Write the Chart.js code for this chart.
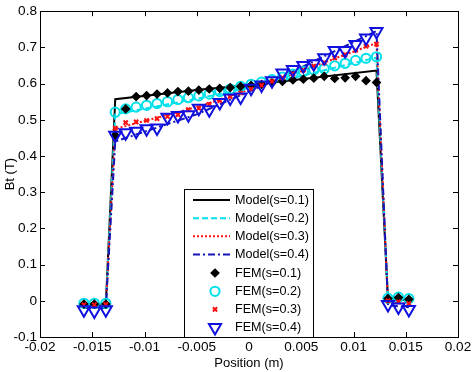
<!DOCTYPE html>
<html>
<head>
<meta charset="utf-8">
<script src="https://cdn.jsdelivr.net/npm/chart.js@4.4.1/dist/chart.umd.min.js"></script>
<style>
html,body{margin:0;padding:0;background:#fff;}
#wrap{width:474px;height:372px;position:relative;}
</style>
</head>
<body>
<div id="wrap"><canvas id="c" width="474" height="372"></canvas></div>
<script>
// ---- data ----
const xTickLabels = ['-0.02','-0.015','-0.01','-0.005','0','0.005','0.01','0.015','0.02'];
const yTickLabels = ['-0.1','0','0.1','0.2','0.3','0.4','0.5','0.6','0.7','0.8'];

// Model curve positions (m)
const xModel = [-0.0158, -0.0148, -0.0137, -0.0128, -0.005, 0.002, 0.0122, 0.0133, 0.0143, 0.0153];
const model01 = [-0.010, -0.010, -0.010, 0.557, 0.582, 0.602, 0.636, 0.002, 0.003, 0.002];
const model02 = [-0.010, -0.010, -0.010, 0.515, 0.558, 0.600, 0.672, 0.003, 0.003, 0.002];
const model03 = [-0.012, -0.012, -0.012, 0.475, 0.535, 0.602, 0.712, -0.004, -0.006, -0.008];
const model04 = [-0.020, -0.020, -0.020, 0.440, 0.515, 0.603, 0.745, -0.012, -0.015, -0.018];

// FEM sample positions (m)
const xFem = [-0.0158, -0.0148, -0.0137,
  -0.0128, -0.0118, -0.0108, -0.0098, -0.0088, -0.0078, -0.0068, -0.0058, -0.0048, -0.0038,
  -0.0028, -0.0018, -0.0008, 0.0002, 0.0012, 0.0022, 0.0032, 0.0042, 0.0052, 0.0062,
  0.0072, 0.0082, 0.0092, 0.0102, 0.0112, 0.0122,
  0.0133, 0.0143, 0.0153];
const fem01 = [-0.009, -0.009, -0.009,
  0.457, 0.530, 0.564, 0.567, 0.571, 0.574, 0.578, 0.579, 0.582, 0.585,
  0.587, 0.589, 0.592, 0.595, 0.598, 0.602, 0.606, 0.610, 0.612, 0.615,
  0.620, 0.614, 0.616, 0.620, 0.608, 0.603,
  0.006, 0.009, 0.004];
const fem02 = [-0.007, -0.007, -0.007,
  0.521, 0.530, 0.535, 0.540, 0.545, 0.550, 0.556, 0.561, 0.566, 0.571,
  0.578, 0.585, 0.592, 0.598, 0.604, 0.611, 0.618, 0.626, 0.633, 0.638,
  0.641, 0.649, 0.656, 0.664, 0.670, 0.674,
  0.007, 0.010, 0.006];
const fem03 = [-0.011, -0.011, -0.010,
  0.477, 0.492, 0.494, 0.498, 0.503, 0.509, 0.514, 0.528, 0.532, 0.543,
  0.553, 0.564, 0.574, 0.585, 0.595, 0.606, 0.616, 0.627, 0.637, 0.648,
  0.658, 0.671, 0.680, 0.692, 0.703, 0.709,
  0.000, -0.003, -0.008];
const fem04 = [-0.025, -0.028, -0.025,
  0.457, 0.464, 0.468, 0.475, 0.477, 0.507, 0.512, 0.514, 0.532, 0.528,
  0.548, 0.560, 0.563, 0.587, 0.596, 0.608, 0.629, 0.639, 0.650, 0.655,
  0.671, 0.691, 0.691, 0.708, 0.726, 0.744,
  -0.010, -0.017, -0.024];

const seriesNames = ['Model(s=0.1)','Model(s=0.2)','Model(s=0.3)','Model(s=0.4)',
                     'FEM(s=0.1)','FEM(s=0.2)','FEM(s=0.3)','FEM(s=0.4)'];

// ---- build ----
const pts = (xs, ys) => xs.map((x, i) => ({x: x, y: ys[i]}));
const FONT = '"Liberation Sans", Arial, Helvetica, sans-serif';
const CYAN = '#00e0ea', RED = '#ff1010', BLUE = '#1010e0', BLUE_L = '#1515b8';

const lineDs = (label, data, color, dash, order) => ({
  type: 'scatter', label, data, showLine: true, borderColor: color, backgroundColor: color,
  borderWidth: 2, borderDash: dash, pointRadius: 0, pointHoverRadius: 0, order, tension: 0
});
const markDs = (label, data, style, color, fill, radius, bw, rot, order) => ({
  type: 'scatter', label, data, showLine: false, pointStyle: style, pointRadius: radius,
  pointHoverRadius: radius, borderColor: color, backgroundColor: fill, pointBorderWidth: bw,
  borderWidth: bw, pointRotation: rot, order
});

const datasets = [
  lineDs(seriesNames[0], pts(xModel, model01), '#000000', [], 7),
  lineDs(seriesNames[1], pts(xModel, model02), CYAN, [6, 3], 6),
  lineDs(seriesNames[2], pts(xModel, model03), RED, [2, 2], 5),
  lineDs(seriesNames[3], pts(xModel, model04), BLUE_L, [7, 3, 2, 3], 4),
  markDs(seriesNames[4], pts(xFem, fem01), 'rectRot', '#000000', '#000000', 3.8, 1.5, 0, 2),
  markDs(seriesNames[5], pts(xFem, fem02), 'circle', CYAN, 'rgba(0,0,0,0)', 4.6, 2, 0, 3),
  markDs(seriesNames[6], pts(xFem, fem03), 'crossRot', RED, RED, 3, 2, 0, 1),
  markDs(seriesNames[7], pts(xFem, fem04), 'triangle', BLUE, 'rgba(0,0,0,0)', 7, 2, 180, 0)
];

const frameTicks = {
  id: 'frameTicks',
  afterDatasetsDraw(chart) {
    const ctx = chart.ctx, a = chart.chartArea;
    const xs = chart.scales.x, ys = chart.scales.y;
    ctx.save();
    ctx.strokeStyle = '#000'; ctx.lineWidth = 1;
    ctx.strokeRect(Math.round(a.left) + 0.5, Math.round(a.top) + 0.5,
                   Math.round(a.right - a.left), Math.round(a.bottom - a.top));
    const L = 5;
    ctx.beginPath();
    xs.ticks.forEach(t => {
      const p = Math.round(xs.getPixelForValue(t.value)) + 0.5;
      ctx.moveTo(p, a.bottom); ctx.lineTo(p, a.bottom - L);
      ctx.moveTo(p, a.top); ctx.lineTo(p, a.top + L);
    });
    ys.ticks.forEach(t => {
      const p = Math.round(ys.getPixelForValue(t.value)) + 0.5;
      ctx.moveTo(a.left, p); ctx.lineTo(a.left + L, p);
      ctx.moveTo(a.right, p); ctx.lineTo(a.right - L, p);
    });
    ctx.stroke();
    ctx.restore();
  }
};

const boxLegend = {
  id: 'boxLegend',
  afterDraw(chart) {
    const ctx = chart.ctx;
    const bx = 184, by = 189, bw = 129, bh = 148;
    const rows = [200, 218.3, 236.3, 254.5, 273, 291.3, 309.3, 327.5];
    ctx.save();
    ctx.fillStyle = '#fff';
    ctx.fillRect(bx, by, bw, bh);
    ctx.strokeStyle = '#000'; ctx.lineWidth = 1;
    ctx.strokeRect(bx + 0.5, by + 0.5, bw, bh);
    ctx.font = '12.6px ' + FONT;
    ctx.textBaseline = 'middle'; ctx.textAlign = 'left';
    chart.data.datasets.forEach((ds, i) => {
      const y = rows[i];
      if (ds.showLine) {
        ctx.save();
        ctx.strokeStyle = ds.borderColor; ctx.lineWidth = 2;
        ctx.setLineDash(ds.borderDash || []);
        ctx.beginPath(); ctx.moveTo(193, y); ctx.lineTo(230, y); ctx.stroke();
        ctx.restore();
      } else {
        ctx.save();
        ctx.strokeStyle = ds.borderColor; ctx.fillStyle = ds.backgroundColor;
        ctx.lineWidth = ds.pointBorderWidth;
        Chart.helpers.drawPoint(ctx, {pointStyle: ds.pointStyle, rotation: ds.pointRotation,
          radius: ds.pointRadius, borderWidth: ds.pointBorderWidth}, 215, y);
        ctx.restore();
      }
      ctx.fillStyle = '#000';
      ctx.fillText(ds.label, 235, y + 0.5);
    });
    ctx.restore();
  }
};

new Chart(document.getElementById('c'), {
  data: { datasets },
  options: {
    responsive: false, animation: false, devicePixelRatio: 1,
    layout: { padding: { top: 8, right: 16, left: 0, bottom: 0 } },
    plugins: { legend: { display: false }, tooltip: { enabled: false } },
    scales: {
      x: {
        type: 'linear', min: -0.02, max: 0.02,
        afterBuildTicks: s => { s.ticks = xTickLabels.map(v => ({value: parseFloat(v)})); },
        ticks: { autoSkip: false, maxRotation: 0, color: '#000', padding: 2,
                 font: { family: FONT, size: 13.6 },
                 callback: (v, i) => xTickLabels[i] },
        grid: { display: false, drawTicks: false },
        border: { display: false },
        title: { display: true, text: 'Position (m)', color: '#000',
                 font: { family: FONT, size: 13 }, padding: { top: 0, bottom: 1 } },
        afterFit: s => { s.height = 35; }
      },
      y: {
        type: 'linear', min: -0.1, max: 0.8,
        afterBuildTicks: s => { s.ticks = yTickLabels.map(v => ({value: parseFloat(v)})); },
        ticks: { autoSkip: false, color: '#000', padding: 3,
                 font: { family: FONT, size: 13.6 },
                 callback: (v, i) => yTickLabels[i] },
        grid: { display: false, drawTicks: false },
        border: { display: false },
        title: { display: true, text: 'Bt (T)', color: '#000',
                 font: { family: FONT, size: 13 }, padding: { top: 3, bottom: 0 } },
        afterFit: s => { s.width = 40; }
      }
    }
  },
  plugins: [frameTicks, boxLegend]
});
</script>
</body>
</html>
